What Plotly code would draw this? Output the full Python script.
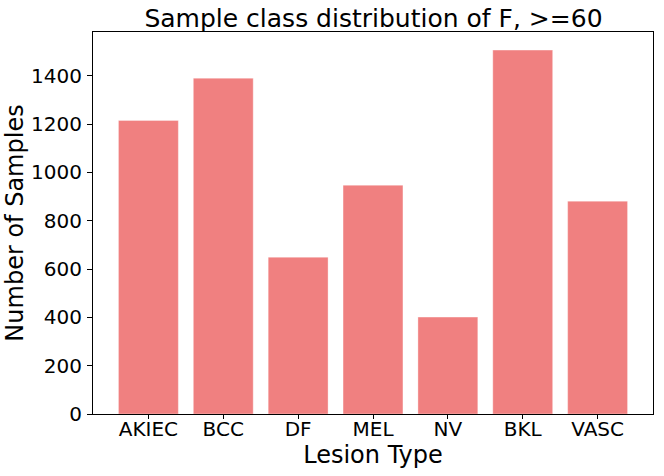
import plotly.graph_objects as go

categories = ["AKIEC", "BCC", "DF", "MEL", "NV", "BKL", "VASC"]
counts = [1215, 1390, 649, 947, 401, 1506, 881]
y_ticks = [0, 200, 400, 600, 800, 1000, 1200, 1400]

FONT = "DejaVu Sans"

fig = go.Figure(
    go.Bar(
        x=list(range(len(categories))),
        y=counts,
        width=0.8,
        marker=dict(color="#F08080", line=dict(color="rgba(255,255,255,0.35)", width=1)),
    )
)

fig.update_layout(
    width=664,
    height=476,
    margin=dict(l=93, r=11, t=32, b=62, pad=0),
    paper_bgcolor="white",
    plot_bgcolor="white",
    showlegend=False,
    font=dict(family=FONT, color="black"),
    title=dict(
        text="Sample class distribution of F, >=60",
        x=0.5625, xanchor="center", y=0.962, yanchor="middle",
        font=dict(size=25, family=FONT, color="black"),
    ),
)

fig.update_xaxes(
    range=[-0.74, 6.74],
    tickmode="array",
    tickvals=list(range(len(categories))),
    ticktext=categories,
    ticks="outside", ticklen=4, tickcolor="black",
    ticklabelstandoff=-7,
    tickfont=dict(size=20, family=FONT, color="black"),
    showline=True, linecolor="black", linewidth=1, mirror=True,
    showgrid=False, zeroline=False, automargin=False,
    title=dict(text="Lesion Type", font=dict(size=24, family=FONT, color="black"), standoff=0),
)

fig.update_yaxes(
    range=[0, 1581],
    tickmode="array",
    tickvals=y_ticks,
    ticktext=[str(v) for v in y_ticks],
    ticks="outside", ticklen=5, tickcolor="black",
    ticklabelstandoff=1,
    tickfont=dict(size=20, family=FONT, color="black"),
    showline=True, linecolor="black", linewidth=1, mirror=True,
    showgrid=False, zeroline=False, automargin=False,
    title=dict(text="Number of Samples", font=dict(size=24, family=FONT, color="black"), standoff=0),
)

fig.write_html(
    "out.html",
    config={"displayModeBar": False},
    post_script="document.body.style.margin='0';document.body.style.overflow='hidden';",
)
